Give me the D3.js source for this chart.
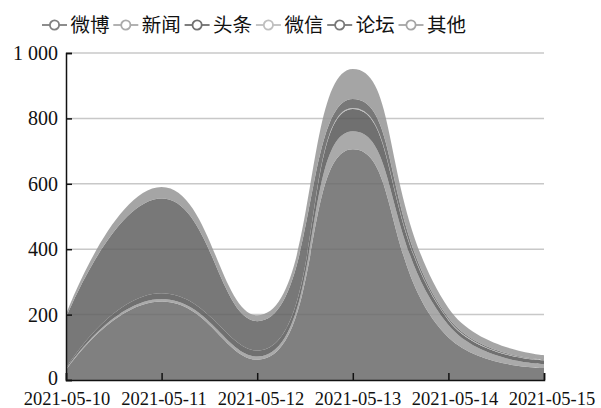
<!DOCTYPE html>
<html>
<head>
<meta charset="utf-8">
<script src="https://cdn.jsdelivr.net/npm/d3@7"></script>
<style>
  html, body { margin: 0; padding: 0; background: #fff; }
  svg { display: block; }
</style>
</head>
<body>
<div id="chart"></div>
<script>
// 数据
const dates = ['2021-05-10', '2021-05-11', '2021-05-12', '2021-05-13', '2021-05-14', '2021-05-15'];
const seriesNames = ['微博', '新闻', '头条', '微信', '论坛', '其他'];
const weibo   = [30, 240, 62, 706, 130, 37];
const xinwen  = [2, 8, 10, 55, 38, 12];
const toutiao = [3, 17, 18, 68, 15, 11];
const weixin  = [0, 0, 0, 3, 2, 1];
const luntan  = [155, 290, 90, 27, 5, 2];
const qita    = [10, 35, 18, 92, 30, 13];
const yTicks = [0, 200, 400, 600, 800, 1000];

const colors = ['#6a6a6a', '#9b9b9b', '#575757', '#b4b4b4', '#606060', '#959595'];
const areaOpacity = 0.85;

const width = 601, height = 408;
const margin = { top: 53, right: 57, bottom: 28, left: 66 };

const rows = dates.map((d, i) => ({
    date: d,
    '微博': weibo[i], '新闻': xinwen[i], '头条': toutiao[i],
    '微信': weixin[i], '论坛': luntan[i], '其他': qita[i]
}));

// 平滑曲线 (类似 echarts smooth: 0.5)
function clamp(v, a, b) {
    return Math.min(Math.max(v, Math.min(a, b)), Math.max(a, b));
}

function SmoothCurve(context, smooth) {
    this._context = context;
    this._smooth = smooth;
}
SmoothCurve.prototype = {
    areaStart() { this._line = 0; },
    areaEnd() { this._line = NaN; },
    lineStart() { this._pts = []; },
    point(x, y) { this._pts.push([+x, +y]); },
    lineEnd() {
        const p = this._pts, ctx = this._context, s = this._smooth, n = p.length;
        if (n) {
            if (this._line) ctx.lineTo(p[0][0], p[0][1]);
            else ctx.moveTo(p[0][0], p[0][1]);
            let cpx0 = p[0][0], cpy0 = p[0][1];
            for (let i = 1; i < n; i++) {
                const [x, y] = p[i];
                const [px, py] = p[i - 1];
                let cpx1 = x, cpy1 = y, ncx = x, ncy = y;
                if (i < n - 1) {
                    const [nx, ny] = p[i + 1];
                    const lp = Math.hypot(x - px, y - py);
                    const ln = Math.hypot(nx - x, ny - y);
                    const r = ln / (ln + lp);
                    let vx = nx - px, vy = ny - py;
                    ncx = clamp(x + vx * s * r, nx, x);
                    ncy = clamp(y + vy * s * r, ny, y);
                    vx = ncx - x; vy = ncy - y;
                    cpx1 = clamp(x - vx * lp / ln, px, x);
                    cpy1 = clamp(y - vy * lp / ln, py, y);
                    vx = x - cpx1; vy = y - cpy1;
                    ncx = x + vx * ln / lp;
                    ncy = y + vy * ln / lp;
                }
                ctx.bezierCurveTo(cpx0, cpy0, cpx1, cpy1, x, y);
                cpx0 = ncx; cpy0 = ncy;
            }
        }
        if (this._line || (this._line !== 0 && n === 1)) ctx.closePath();
        this._line = 1 - this._line;
    }
};
const curveSmooth = context => new SmoothCurve(context, 0.5);

const svg = d3.select('#chart').append('svg')
    .attr('width', width)
    .attr('height', height);

const x = d3.scalePoint()
    .domain(dates)
    .range([margin.left, width - margin.right]);

// 标签位置略宽于刻度
const xLabel = d3.scalePoint()
    .domain(dates)
    .range([66.5, 551.5]);

const y = d3.scaleLinear()
    .domain([0, 1000])
    .range([height - margin.bottom, margin.top]);

const locale = d3.formatLocale({ decimal: '.', thousands: ' ', grouping: [3], currency: ['', ''] });
const fmt = locale.format(',');

// 网格线
svg.append('g')
    .selectAll('line')
    .data(yTicks.filter(t => t > 0))
    .enter()
    .append('line')
    .attr('x1', margin.left)
    .attr('x2', width - margin.right)
    .attr('y1', d => y(d))
    .attr('y2', d => y(d))
    .attr('stroke', '#c8c8c8')
    .attr('stroke-width', 1.5);

// 堆叠面积
const stack = d3.stack().keys(seriesNames);
const layers = stack(rows);

const area = d3.area()
    .x(d => x(d.data.date))
    .y0(d => y(d[0]))
    .y1(d => y(d[1]))
    .curve(curveSmooth);

svg.append('g')
    .selectAll('path')
    .data(layers)
    .enter()
    .append('path')
    .attr('d', area)
    .attr('fill', (d, i) => colors[i])
    .attr('fill-opacity', areaOpacity);

// Y 轴
const yAxis = d3.axisLeft(y)
    .tickValues(yTicks)
    .tickSize(-6)
    .tickPadding(8)
    .tickFormat(fmt);

const gy = svg.append('g')
    .attr('transform', `translate(${margin.left},0)`)
    .call(yAxis);
gy.select('.domain').attr('stroke', '#111').attr('stroke-width', 1.5);
gy.selectAll('.tick line').attr('stroke', '#111').attr('stroke-width', 1.5);
gy.selectAll('.tick text')
    .attr('font-family', '"Liberation Serif", "DejaVu Serif", serif')
    .attr('font-size', 20)
    .attr('fill', '#111')
    .attr('dy', d => d === 0 ? '0.2em' : '0.32em');

// X 轴
const xAxis = d3.axisBottom(x)
    .tickSize(-7)
    .tickPadding(11.5);

const gx = svg.append('g')
    .attr('transform', `translate(0,${height - margin.bottom})`)
    .call(xAxis);
gx.select('.domain').attr('stroke', '#111').attr('stroke-width', 1.5);
gx.selectAll('.tick line').attr('stroke', '#111').attr('stroke-width', 1.5);
gx.selectAll('.tick text')
    .attr('dx', d => xLabel(d) - x(d))
    .attr('font-family', '"Liberation Serif", "DejaVu Serif", serif')
    .attr('font-size', 18.5)
    .attr('fill', '#111');

// 图例
const legendColor = i => d3.interpolateRgb(colors[i], '#fff')(1 - areaOpacity);

const legend = svg.append('g')
    .attr('transform', 'translate(42,25)');

const item = legend.selectAll('g')
    .data(seriesNames)
    .enter()
    .append('g')
    .attr('transform', (d, i) => `translate(${i * 71.3},0)`);

item.append('line')
    .attr('x1', 0).attr('x2', 25)
    .attr('y1', 0).attr('y2', 0)
    .attr('stroke', (d, i) => legendColor(i))
    .attr('stroke-width', 1.8);

item.append('circle')
    .attr('cx', 12.5).attr('cy', 0).attr('r', 4.6)
    .attr('fill', '#fff')
    .attr('stroke', (d, i) => legendColor(i))
    .attr('stroke-width', 1.8);

item.append('text')
    .attr('x', 28.5)
    .attr('y', 0)
    .attr('dy', '0.36em')
    .attr('font-family', '"Noto Sans CJK SC", sans-serif')
    .attr('font-size', 19.5)
    .attr('fill', '#111')
    .text(d => d);
</script>
</body>
</html>
